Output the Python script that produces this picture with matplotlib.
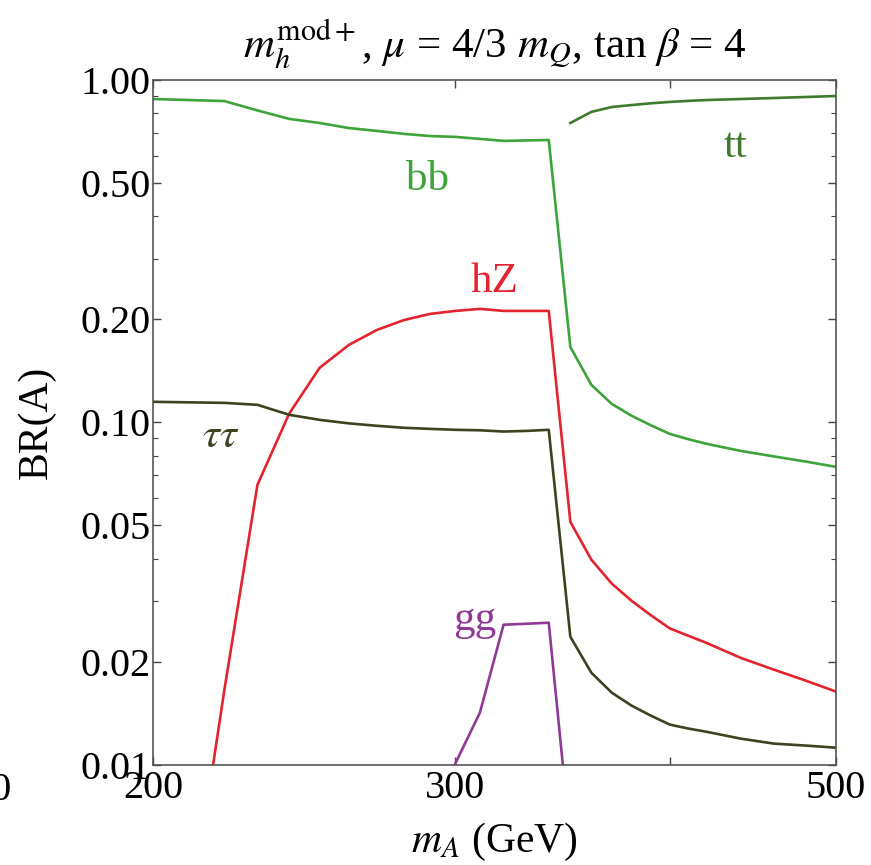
import numpy as np
import matplotlib
matplotlib.use("Agg")
import matplotlib.pyplot as plt
from matplotlib.ticker import FixedLocator, NullFormatter, FixedFormatter

plt.rcParams['font.family'] = ['Liberation Serif', 'DejaVu Serif']
plt.rcParams['mathtext.fontset'] = 'stix'

# masses in GeV
m_low = [200, 220, 230, 240, 250, 260, 270, 280, 290, 300, 310, 320, 330, 340]
m_high = [350, 360, 370, 380, 390, 400, 410, 420, 440, 460, 480, 500]

# BR(A -> bb)
bb_low = [0.880, 0.868, 0.815, 0.770, 0.749, 0.724, 0.710, 0.696, 0.686, 0.682, 0.673, 0.664, 0.666, 0.668]
bb_high = [0.166, 0.1287, 0.1132, 0.1045, 0.0980, 0.0925, 0.0893, 0.0866, 0.0825, 0.0795, 0.0768, 0.0741]
# BR(A -> tt), opens above 2 m_t
tt_high = [0.749, 0.807, 0.834, 0.845, 0.855, 0.863, 0.869, 0.874, 0.880, 0.886, 0.892, 0.898]
# BR(A -> hZ)
m_hz = [210, 220, 230, 240, 250, 260, 270, 280, 290, 300, 310, 320, 330, 340]
hz_low = [0.0035, 0.0165, 0.0657, 0.1060, 0.1443, 0.1683, 0.1862, 0.199, 0.2074, 0.2116, 0.2145, 0.2116, 0.2116, 0.2116]
hz_high = [0.0512, 0.0397, 0.0338, 0.0301, 0.0273, 0.0250, 0.0238, 0.0227, 0.0205, 0.01894, 0.0176, 0.01634]
# BR(A -> tau tau)
tau_low = [0.1148, 0.1140, 0.1125, 0.1052, 0.1017, 0.0993, 0.0977, 0.0964, 0.0957, 0.0951, 0.0948, 0.0940, 0.0944, 0.0951]
tau_high = [0.02364, 0.01856, 0.01623, 0.01487, 0.01390, 0.01309, 0.01275, 0.01248, 0.01191, 0.01152, 0.01137, 0.01121]
# BR(A -> gg)
m_gg = [290, 300, 310, 320, 330, 340, 350]
gg = [0.005, 0.0101, 0.01419, 0.02563, 0.0258, 0.02598, 0.006]

c_bb = '#3ea33a'
c_tt = '#3f7a2e'
c_tau = '#3a4420'
c_hz = '#e32330'
c_gg = '#8f3a96'

fig = plt.figure(figsize=(8.71, 8.65), dpi=100)
ax = fig.add_axes([0.176, 0.116, 0.784, 0.7915])

lw = 1.9
ax.plot(m_low + m_high, bb_low + bb_high, color=c_bb, lw=lw)
ax.plot(m_high, tt_high, color=c_tt, lw=lw)
ax.plot(m_hz + m_high, hz_low + hz_high, color=c_hz, lw=lw)
ax.plot(m_low + m_high, tau_low + tau_high, color=c_tau, lw=lw)
ax.plot(m_gg, gg, color=c_gg, lw=lw)

ax.set_xscale('log')
ax.set_yscale('log')
ax.set_xlim(200, 500)
ax.set_ylim(0.01, 1.0)

ax.xaxis.set_major_locator(FixedLocator([200, 300, 400, 500]))
ax.xaxis.set_major_formatter(FixedFormatter(['200', '300', '', '500']))
ax.xaxis.set_minor_locator(FixedLocator([]))
ax.xaxis.set_minor_formatter(NullFormatter())

yt = [0.01, 0.02, 0.05, 0.1, 0.2, 0.5, 1.0]
ax.yaxis.set_major_locator(FixedLocator(yt))
ax.yaxis.set_major_formatter(FixedFormatter(['0.01', '0.02', '0.05', '0.10', '0.20', '0.50', '1.00']))
ymin = [0.03, 0.04, 0.06, 0.07, 0.08, 0.09, 0.3, 0.4, 0.6, 0.7, 0.8, 0.9]
ax.yaxis.set_minor_locator(FixedLocator(ymin))
ax.yaxis.set_minor_formatter(NullFormatter())

ax.tick_params(which='both', direction='in', top=True, right=True, colors='#444444',
               labelcolor='black', labelsize=29)
ax.tick_params(which='major', length=6, width=1)
ax.tick_params(which='minor', length=3.5, width=0.8)
ax.tick_params(axis='y', pad=2)
ax.tick_params(axis='x', pad=4)
for s in ax.spines.values():
    s.set_color('#555555')
    s.set_linewidth(1.2)

ax.set_title(r'$m_h^{\mathrm{mod+}}$, $\mu$ = 4/3 $m_Q$, tan $\beta$ = 4', fontsize=31, pad=16)
ax.set_xlabel(r'$m_A$ (GeV)', fontsize=30, labelpad=10)
ax.set_ylabel('BR(A)', fontsize=30, labelpad=18)

lab = 31
ax.text(289, 0.51, 'bb', color=c_bb, fontsize=lab, ha='center', va='center')
ax.text(437, 0.637, 'tt', color=c_tt, fontsize=lab, ha='center', va='center')
ax.text(316, 0.257, 'hZ', color=c_hz, fontsize=lab, ha='center', va='center')
ax.text(219, 0.0907, r'$\tau\tau$', color=c_tau, fontsize=lab, ha='center', va='center')
ax.text(308, 0.0265, 'gg', color=c_gg, fontsize=lab, ha='center', va='center')

# cut-off tick label of the neighbouring panel
fig.text(0.013, 0.0867, '500', fontsize=29, ha='right', va='center')

fig.savefig('out.png', dpi=100)
